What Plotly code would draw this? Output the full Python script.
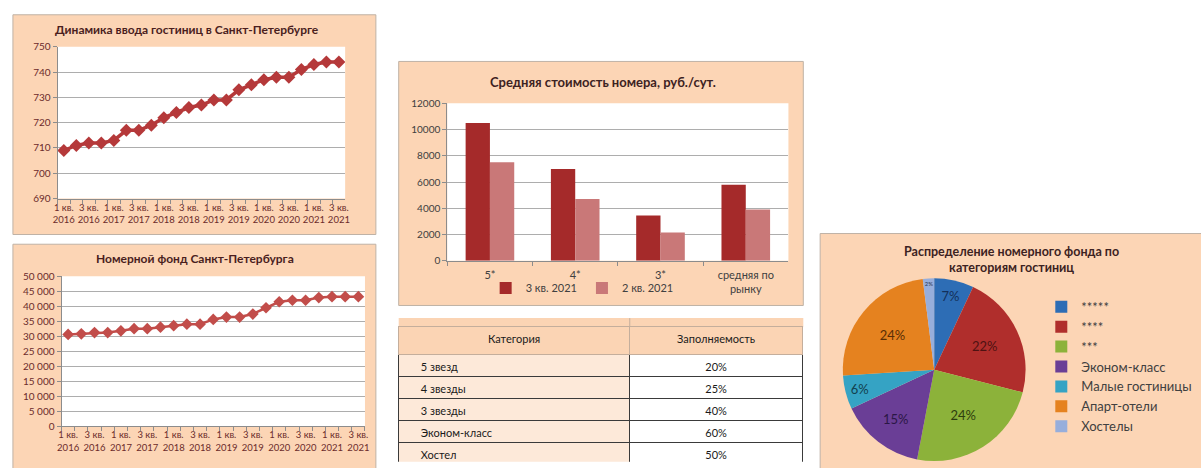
import plotly.graph_objects as go

W, H = 1201, 468

# ---------------- data ----------------
quarters = [
    "1 кв.<br>2016", "2 кв.<br>2016", "3 кв.<br>2016", "4 кв.<br>2016",
    "1 кв.<br>2017", "2 кв.<br>2017", "3 кв.<br>2017", "4 кв.<br>2017",
    "1 кв.<br>2018", "2 кв.<br>2018", "3 кв.<br>2018", "4 кв.<br>2018",
    "1 кв.<br>2019", "2 кв.<br>2019", "3 кв.<br>2019", "4 кв.<br>2019",
    "1 кв.<br>2020", "2 кв.<br>2020", "3 кв.<br>2020", "4 кв.<br>2020",
    "1 кв.<br>2021", "2 кв.<br>2021", "3 кв.<br>2021",
]
hotels_count = [709, 711, 712, 712, 713, 717, 717, 719, 722, 724, 726, 727,
                729, 729, 733, 735, 737, 738, 738, 741, 743, 744, 744]
room_stock = [30600, 30800, 31200, 31200, 31800, 32500, 32500, 33000, 33500,
              34000, 34000, 35600, 36400, 36400, 37400, 39500, 41500, 42000,
              42000, 42900, 43200, 43200, 43200]

bar_categories = ["5*", "4*", "3*", "средняя по<br>рынку"]
price_q3_2021 = [10500, 7000, 3450, 5800]
price_q2_2021 = [7500, 4700, 2150, 3900]

table_header = ["Категория", "Заполняемость"]
table_categories = ["5 звезд", "4 звезды", "3 звезды", "Эконом-класс", "Хостел"]
occupancy = ["20%", "25%", "40%", "60%", "50%"]

pie_labels = ["*****", "****", "***", "Эконом-класс", "Малые гостиницы",
              "Апарт-отели", "Хостелы"]
pie_values = [7, 22, 24, 15, 6, 24, 2]

# ---------------- styles ----------------
FONT = "Lato"
PANEL = "#FCD5B5"
PANEL_LINE = "#BFB2A6"
GRID = "#ADADAD"
AXIS = "#8C8C8C"
MAROON_TXT = "#6B2B2B"
TITLE_TXT = "#4A1E1E"
GRAY_TXT = "#404040"
HEADER_FILL = "#FBD4B4"


def px(x):
    return x / W


def py(y):
    return 1 - y / H


# shown labels: every other quarter
shown_labels = [lab if i % 2 == 0 else "" for i, lab in enumerate(quarters)]
indent = "\u00a0" * 5
table_left_col = [indent + c for c in table_categories]

fig = go.Figure()

# Panel 1: line
fig.add_trace(go.Scatter(
    x=quarters, y=hotels_count, mode="lines+markers",
    line=dict(color="#B5393A", width=3.5),
    marker=dict(symbol="diamond", size=10, color="#B5393A"),
    xaxis="x", yaxis="y", showlegend=False, hoverinfo="skip"))

# Panel 2: line
fig.add_trace(go.Scatter(
    x=quarters, y=room_stock, mode="lines+markers",
    line=dict(color="#C24D4A", width=2.5),
    marker=dict(symbol="diamond", size=9, color="#C24D4A"),
    xaxis="x2", yaxis="y2", showlegend=False, hoverinfo="skip"))

# Panel 3: bars
fig.add_trace(go.Bar(
    x=bar_categories, y=price_q3_2021, name="3 кв. 2021",
    marker=dict(color="#A52A2A", line=dict(width=0)),
    xaxis="x3", yaxis="y3", legend="legend"))
fig.add_trace(go.Bar(
    x=bar_categories, y=price_q2_2021, name="2 кв. 2021",
    marker=dict(color="#C97878", line=dict(width=0)),
    xaxis="x3", yaxis="y3", legend="legend"))

# Table
fig.add_trace(go.Table(
    domain=dict(x=[px(397), px(805)], y=[0, py(329)]),
    columnwidth=[233, 175],
    header=dict(values=table_header, fill_color=HEADER_FILL, height=28,
                align="center", line=dict(color="#C4AE9C", width=1),
                font=dict(family=FONT, size=11, color="#1A1A1A")),
    cells=dict(values=[table_left_col, occupancy],
               fill_color=[["#FDE9D9"] * len(table_categories), ["#FFFFFF"] * len(occupancy)],
               height=22, align=["left", "center"],
               line=dict(color="#3A3A3A", width=1),
               font=dict(family=FONT, size=11, color="#1A1A1A")),
))

# Pie
pie_colors = ["#2D6DB5", "#B02E2C", "#8CB23A", "#6A3E96", "#35A3C4", "#E5821F", "#97AEDB"]
pie_text_colors = ["#14305A", "#4E1212", "#2E3D0E", "#2A1745", "#12404E", "#5A2E05", "#2A3550"]
cx, cy, r = 937, 373, 94
fig.add_trace(go.Pie(
    labels=pie_labels, values=pie_values, sort=False, direction="clockwise",
    rotation=0, marker=dict(colors=pie_colors, line=dict(width=0)),
    texttemplate="%{percent:.0%}", textposition="inside",
    insidetextorientation="horizontal",
    textfont=dict(family=FONT, size=13, color=pie_text_colors),
    domain=dict(x=[px(cx - r), px(cx + r)], y=[py(cy + r), py(cy - r)]),
    legend="legend2", hoverinfo="skip"))

# ---------------- layout ----------------
shapes = []
# panel backgrounds
for (x0, y0, x1, y1) in [(8, 8, 374, 234), (8, 244, 374, 475), (397, 56, 805, 307),
                         (822, 233, 1210, 475)]:
    shapes.append(dict(type="rect", xref="paper", yref="paper",
                       x0=px(x0), x1=px(x1), y0=py(y1), y1=py(y0),
                       fillcolor=PANEL, line=dict(color=PANEL_LINE, width=1),
                       layer="below"))
# top strip of the table header
shapes.append(dict(type="rect", xref="paper", yref="paper",
                   x0=px(397), x1=px(805), y0=py(329.5), y1=py(320),
                   fillcolor=HEADER_FILL, line=dict(width=0), layer="below"))
shapes.append(dict(type="line", xref="paper", yref="paper",
                   x0=px(630), x1=px(630), y0=py(330), y1=py(320),
                   line=dict(color="#C4AE9C", width=1), layer="below"))
# white plot areas
for ax in ["", "2", "3"]:
    shapes.append(dict(type="rect", xref=f"x{ax} domain", yref=f"y{ax} domain",
                       x0=0, x1=1, y0=0, y1=1, fillcolor="#FFFFFF",
                       line=dict(width=0), layer="below"))

common_x = dict(type="category", tickson="boundaries", ticks="outside", ticklen=4,
                tickcolor=AXIS, showline=True, linecolor=AXIS, linewidth=1,
                showgrid=False, tickangle=0, zeroline=False, fixedrange=True)
common_y = dict(ticks="outside", ticklen=4, tickcolor=AXIS, showline=True,
                linecolor=AXIS, linewidth=1, showgrid=True, gridcolor=GRID,
                gridwidth=1, zeroline=False, fixedrange=True)

fig.update_layout(
    width=W, height=H, margin=dict(l=0, r=0, t=0, b=0),
    paper_bgcolor="#FFFFFF", plot_bgcolor="rgba(0,0,0,0)",
    font=dict(family=FONT, color=GRAY_TXT),
    separators=", ",
    bargap=0.43, bargroupgap=0, barmode="group",
    shapes=shapes,
    xaxis=dict(common_x, domain=[px(53), px(343)], anchor="y",
               range=[-0.5, len(quarters) - 0.5],
               tickmode="array", tickvals=quarters, ticktext=shown_labels,
               tickfont=dict(family=FONT, size=9.5, color=MAROON_TXT)),
    yaxis=dict(common_y, domain=[py(197), py(41)], anchor="x",
               range=[690, 750], dtick=10,
               tickfont=dict(family=FONT, size=10, color=MAROON_TXT)),
    xaxis2=dict(common_x, domain=[px(57), px(363)], anchor="y2",
                range=[-0.5, len(quarters) - 0.5],
                tickmode="array", tickvals=quarters, ticktext=shown_labels,
                tickfont=dict(family=FONT, size=9.5, color=MAROON_TXT)),
    yaxis2=dict(common_y, domain=[py(431), py(277)], anchor="x2",
                range=[0, 50000], dtick=5000, tickformat=",d",
                tickfont=dict(family=FONT, size=10, color=MAROON_TXT)),
    xaxis3=dict(common_x, domain=[px(446), px(790)], anchor="y3",
                range=[-0.5, len(bar_categories) - 0.5],
                ticklabelstandoff=4,
                tickfont=dict(family=FONT, size=11, color=GRAY_TXT)),
    yaxis3=dict(common_y, domain=[py(261), py(99)], anchor="x3",
                range=[0, 12000], dtick=2000, tickformat="d",
                tickfont=dict(family=FONT, size=10, color=GRAY_TXT)),
    legend=dict(orientation="h", x=px(582), xanchor="center", y=py(289),
                yanchor="middle", bgcolor="rgba(0,0,0,0)", itemwidth=30,
                font=dict(family=FONT, size=11, color=GRAY_TXT)),
    legend2=dict(x=px(1045), xanchor="left", y=py(293), yanchor="top",
                 bgcolor="rgba(0,0,0,0)", itemwidth=30, tracegroupgap=0,
                 font=dict(family=FONT, size=13, color=GRAY_TXT)),
    annotations=[
        dict(text="<b>Динамика ввода гостиниц в Санкт-Петербурге</b>",
             x=px(184), y=py(23), xref="paper", yref="paper", showarrow=False,
             xanchor="center", yanchor="middle",
             font=dict(family=FONT, size=12, color=TITLE_TXT)),
        dict(text="<b>Номерной фонд Санкт-Петербурга</b>",
             x=px(192), y=py(259), xref="paper", yref="paper", showarrow=False,
             xanchor="center", yanchor="middle",
             font=dict(family=FONT, size=12, color=TITLE_TXT)),
        dict(text="<b>Средняя стоимость номера, руб./сут.</b>",
             x=px(603), y=py(77), xref="paper", yref="paper", showarrow=False,
             xanchor="center", yanchor="middle",
             font=dict(family=FONT, size=13, color="#3C2222")),
        dict(text="<b>Распределение номерного фонда по<br>категориям гостиниц</b>",
             x=px(1015), y=py(260), xref="paper", yref="paper", showarrow=False,
             xanchor="center", yanchor="middle",
             font=dict(family=FONT, size=12.5, color="#3C2222")),
    ],
)

fig.write_html("out.html", config={"displayModeBar": False},
               post_script="document.body.style.margin='0px';"
                           "document.body.style.overflow='hidden';")
